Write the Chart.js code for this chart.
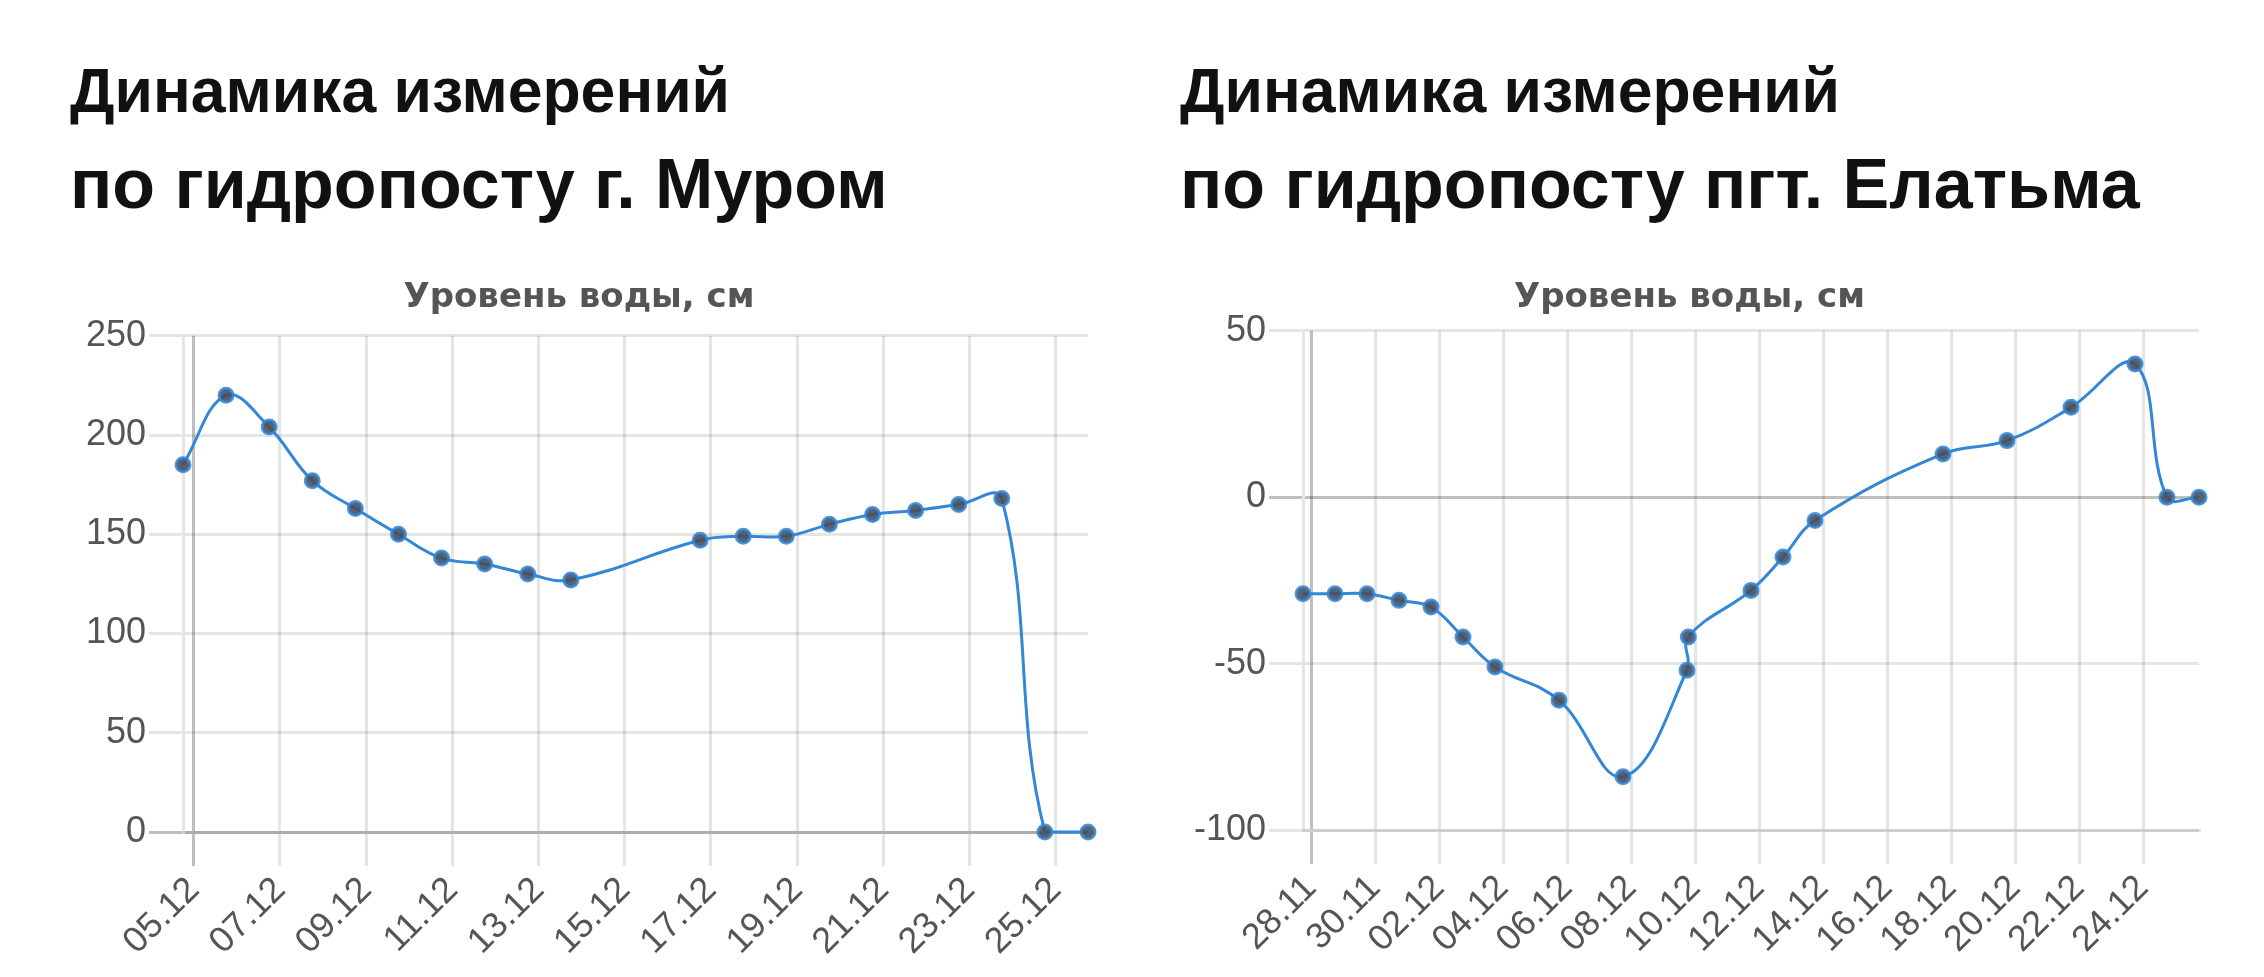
<!DOCTYPE html>
<html>
<head>
<meta charset="utf-8">
<script src="https://cdn.jsdelivr.net/npm/chart.js@4.4.0/dist/chart.umd.min.js"></script>
<style>
  body { margin: 0; background: #fff; width: 2264px; height: 977px; overflow: hidden; position: relative;
         font-family: "Liberation Sans", Arial, sans-serif; }
  .head { position: absolute; margin: 0; color: #111; font-weight: bold; white-space: nowrap; }
  .l1 { font-size: 62.5px; line-height: 62.5px; top: 59px; }
  .l2 { font-size: 70px; line-height: 70px; top: 149px; }
  .box { position: absolute; top: 260px; height: 717px; width: 1030px; }
</style>
</head>
<body>

<div class="head l1" style="left:70px">Динамика измерений</div>
<div class="head l2" style="left:70px">по гидропосту г. Муром</div>
<div class="head l1" style="left:1180px">Динамика измерений</div>
<div class="head l2" style="left:1180px">по гидропосту пгт. Елатьма</div>

<div class="box" style="left:70px"><canvas id="chartMurom"></canvas></div>
<div class="box" style="left:1180px"><canvas id="chartElatma"></canvas></div>

<script>
const YEAR = 2023;
const chartTitle = 'Уровень воды, см';

// Муром
const muromDates = ['04.12 18:00', '05.12 18:00', '06.12 18:00', '07.12 18:00', '08.12 18:00',
                    '09.12 18:00', '10.12 18:00', '11.12 18:00', '12.12 18:00', '13.12 18:00',
                    '16.12 18:00', '17.12 18:00', '18.12 18:00', '19.12 18:00', '20.12 18:00',
                    '21.12 18:00', '22.12 18:00', '23.12 18:00', '24.12 18:00', '25.12 18:00'];
const muromLevels = [185, 220, 204, 177, 163, 150, 138, 135, 130, 127,
                     147, 149, 149, 155, 160, 162, 165, 168, 0, 0];
const muromTicks = ['05.12', '07.12', '09.12', '11.12', '13.12', '15.12',
                    '17.12', '19.12', '21.12', '23.12', '25.12'];
const muromY = [0, 250, 50];

// Елатьма
const elatmaDates = ['27.11 18:00', '28.11 18:00', '29.11 18:00', '30.11 18:00', '01.12 18:00',
                     '02.12 18:00', '03.12 18:00', '05.12 18:00', '07.12 18:00', '09.12 18:00',
                     '09.12 19:00', '11.12 18:00', '12.12 18:00', '13.12 18:00', '17.12 18:00',
                     '19.12 18:00', '21.12 18:00', '23.12 18:00', '24.12 18:00', '25.12 18:00'];
const elatmaLevels = [-29, -29, -29, -31, -33, -42, -51, -61, -84, -52,
                      -42, -28, -18, -7, 13, 17, 27, 40, 0, 0];
const elatmaTicks = ['28.11', '30.11', '02.12', '04.12', '06.12', '08.12', '10.12',
                     '12.12', '14.12', '16.12', '18.12', '20.12', '22.12', '24.12'];
const elatmaY = [-100, 50, 50];

const DAY = 86400000;
const FONT = '"Liberation Sans", Arial, sans-serif';
const BLUE = 'rgb(52, 134, 214)';

function toDays(s) {
  const [d, t] = s.split(' ');
  const [dd, mm] = d.split('.').map(Number);
  const [hh, mi] = (t || '00:00').split(':').map(Number);
  return Date.UTC(YEAR, mm - 1, dd, hh, mi) / DAY;
}

function dayLabel(v) {
  const dt = new Date(Math.round(v * DAY));
  const dd = String(dt.getUTCDate()).padStart(2, '0');
  const mm = String(dt.getUTCMonth() + 1).padStart(2, '0');
  return dd + '.' + mm;
}

function makeChart(id, dates, levels, ticks, yRange, layout) {
  const xs = dates.map(toDays);
  const points = xs.map((x, i) => ({ x: x, y: levels[i] }));
  const tickDays = ticks.map(toDays);

  return new Chart(document.getElementById(id), {
    type: 'line',
    data: {
      datasets: [{
        data: points,
        borderColor: BLUE,
        borderWidth: 3,
        tension: 0.4,
        fill: false,
        clip: false,
        pointRadius: 7,
        pointBorderWidth: 3,
        pointBorderColor: 'rgba(52, 134, 214, 0.85)',
        pointBackgroundColor: 'rgba(70, 80, 95, 0.9)'
      }]
    },
    options: {
      responsive: true,
      maintainAspectRatio: false,
      animation: false,
      devicePixelRatio: 1,
      layout: { padding: { left: 0, right: layout.right, top: 0, bottom: 0 } },
      plugins: {
        legend: { display: false },
        tooltip: { enabled: false },
        title: {
          display: true,
          text: chartTitle,
          color: '#555',
          font: { family: '"DejaVu Sans", sans-serif', size: 34, weight: 'bold' },
          padding: { top: 18, bottom: layout.titleBottom }
        }
      },
      scales: {
        x: {
          type: 'linear',
          min: xs[0],
          max: xs[xs.length - 1],
          afterBuildTicks: s => { s.ticks = tickDays.map(v => ({ value: v })); },
          afterFit: s => { s.height = layout.xHeight; },
          grid: {
            lineWidth: 3,
            tickLength: 34,
            color: c => c.index === 0 ? 'rgba(0,0,0,0.25)' : 'rgba(0,0,0,0.1)'
          },
          border: { color: 'rgba(0,0,0,0.1)', width: 3 },
          ticks: {
            minRotation: 45,
            maxRotation: 45,
            autoSkip: false,
            padding: 3,
            color: '#555',
            font: { family: FONT, size: 36 },
            callback: v => dayLabel(v)
          }
        },
        y: {
          min: yRange[0],
          max: yRange[1],
          afterFit: s => { s.width = layout.yWidth; },
          grid: {
            lineWidth: 3,
            tickLength: 34,
            color: c => c.tick && c.tick.value === 0 ? 'rgba(0,0,0,0.25)' : 'rgba(0,0,0,0.1)'
          },
          border: { color: 'rgba(0,0,0,0.1)', width: 3 },
          ticks: {
            stepSize: yRange[2],
            padding: 3,
            color: '#555',
            font: { family: FONT, size: 36 }
          }
        }
      }
    }
  });
}

makeChart('chartMurom', muromDates, muromLevels, muromTicks, muromY,
          { yWidth: 113, xHeight: 145, right: 12, titleBottom: 17 });
makeChart('chartElatma', elatmaDates, elatmaLevels, elatmaTicks, elatmaY,
          { yWidth: 123, xHeight: 147, right: 11, titleBottom: 12 });
</script>
</body>
</html>
